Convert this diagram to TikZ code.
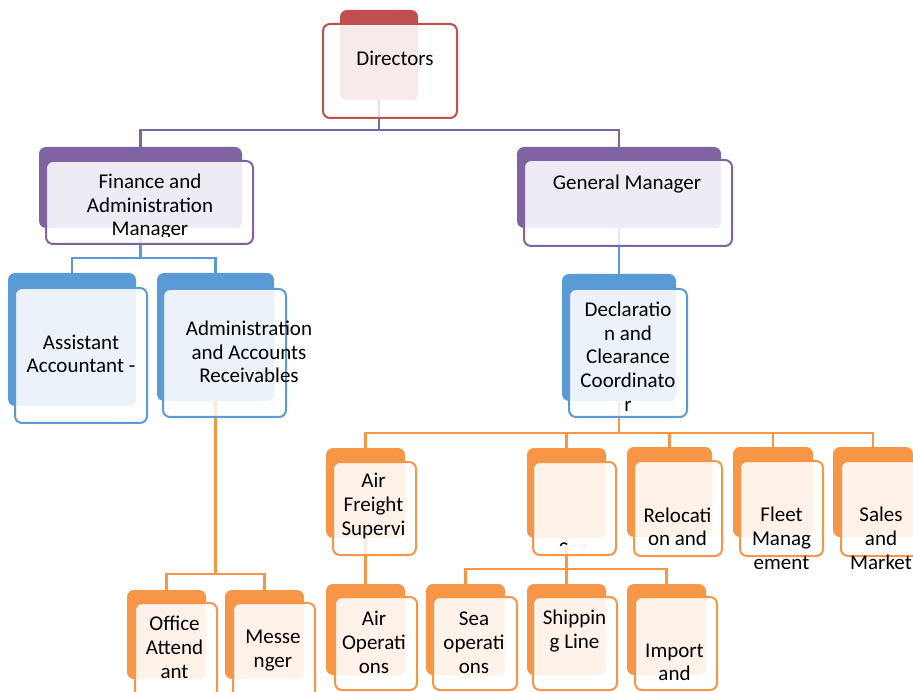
\documentclass[tikz,border=0pt]{standalone}
\usepackage{fontspec}
\setmainfont{Carlito}
\usetikzlibrary{fit}
\pgfdeclarelayer{bg}
\pgfsetlayers{bg,main}
\definecolor{cpurple}{HTML}{8064A2}
\definecolor{tpurple}{HTML}{EEEBF4}
\definecolor{cred}{HTML}{C0504D}
\definecolor{tred}{HTML}{F7EAEA}
\definecolor{cblue}{HTML}{5B9BD5}
\definecolor{tblue}{HTML}{EBF2FA}
\definecolor{corange}{HTML}{F79646}
\definecolor{torange}{HTML}{FEF2E9}
\tikzset{
  backbox/.style={inner sep=0pt, outer sep=0pt, rounded corners=7pt, draw=none},
  frontbox/.style={inner sep=0pt, outer sep=0pt, rounded corners=7pt, fill=white, fill opacity=0.8, draw=none},
  conn/.style={line width=2.3pt, draw=#1},
  lbl/.style={font=\fontsize{21}{23.6}\selectfont, align=center, inner sep=0pt, anchor=base, text=black},
}
\newcommand\orgunit[7]{%
  \node[backbox, fill=#2, fit={#4 #5}] (#1B) {};
  \node[frontbox, fit={#6 #7}] (#1F) {};
  \begin{scope}
    \clip[rounded corners=7pt] (#1B.north west) rectangle (#1B.south east);
    \fill[#3, rounded corners=7pt] (#1F.north west) rectangle (#1F.south east);
  \end{scope}
  \draw[#2, line width=2pt, rounded corners=7pt] (#1F.north west) rectangle (#1F.south east);
}
\begin{document}
\begin{tikzpicture}[x=1pt,y=-1pt]
\useasboundingbox (0,0) rectangle (913,692);
% units
\orgunit{dir}{cred}{tred}{(340,10)}{(418,100)}{(323,24)}{(457,118)}
\orgunit{fin}{cpurple}{tpurple}{(39,147)}{(242,228)}{(46,161)}{(253,244)}
\orgunit{gm}{cpurple}{tpurple}{(517,147)}{(721,228)}{(524,160)}{(732,246)}
\orgunit{asst}{cblue}{tblue}{(8,273)}{(136,406)}{(15,288)}{(147,423)}
\orgunit{admin}{cblue}{tblue}{(157,273)}{(274,401)}{(163,289)}{(286,417)}
\orgunit{decl}{cblue}{tblue}{(562,274)}{(676,401)}{(569,289)}{(687,417)}
\orgunit{air}{corange}{torange}{(326,448)}{(405,538)}{(333,462)}{(416,555)}
\orgunit{sea}{corange}{torange}{(527,448)}{(606,538)}{(533,462)}{(616,555)}
\orgunit{reloc}{corange}{torange}{(627,447)}{(712,537)}{(634,461)}{(722,556)}
\orgunit{fleet}{corange}{torange}{(733,447)}{(813,537)}{(740,461)}{(823,556)}
\orgunit{sales}{corange}{torange}{(833,447)}{(913,537)}{(841,461)}{(925,556)}
\orgunit{office}{corange}{torange}{(127,590)}{(206,679)}{(135,603)}{(217,705)}
\orgunit{mess}{corange}{torange}{(225,590)}{(304,679)}{(233,603)}{(315,705)}
\orgunit{airops}{corange}{torange}{(326,584)}{(405,675)}{(335,597)}{(417,690)}
\orgunit{seaops}{corange}{torange}{(426,584)}{(505,675)}{(433,597)}{(517,690)}
\orgunit{ship}{corange}{torange}{(527,584)}{(606,675)}{(533,597)}{(617,690)}
\orgunit{import}{corange}{torange}{(627,584)}{(706,675)}{(635,597)}{(717,690)}
% connectors beneath the boxes
\begin{pgfonlayer}{bg}
\draw[conn=cpurple] (dirB.south) -- ++(0,30) -| (finB.north);
\draw[conn=cpurple] (dirB.south) ++(0,30) -| (gmB.north);
\draw[conn=cblue] (finB.south) -- ++(0,30) -| (asstB.north);
\draw[conn=cblue] (finB.south) ++(0,30) -| (adminB.north);
\draw[conn=cblue] (gmB.south) -- (declB.north);
\draw[conn=corange] (adminB.south) -- ++(0,173) -| (officeB.north);
\draw[conn=corange] (adminB.south) ++(0,173) -| (messB.north);
\draw[conn=corange] (declB.south) -- ++(0,32) -| (airB.north);
\draw[conn=corange] (declB.south) ++(0,32) -| (seaB.north);
\draw[conn=corange] (declB.south) ++(0,32) -| (relocB.north);
\draw[conn=corange] (declB.south) ++(0,32) -| (fleetB.north);
\draw[conn=corange] (declB.south) ++(0,32) -| (salesB.north);
\draw[conn=corange] (airB.south) -- (airopsB.north);
\draw[conn=corange] (seaB.south) -- ++(0,31) -| (seaopsB.north);
\draw[conn=corange] (seaB.south) ++(0,31) -| (shipB.north);
\draw[conn=corange] (seaB.south) ++(0,31) -| (importB.north);
\end{pgfonlayer}
% texts (anchor = baseline of the last line)
\node[lbl] (dirT) at (395,66) {Directors};
\begin{scope}
  \clip (0,140) rectangle (300,237);
  \node[lbl] (finT) at (150,236) {Finance and\\Administration\\Manager};
\end{scope}
\node[lbl] (gmT) at (627,190) {General Manager};
\node[lbl] (asstT) at (81,373) {Assistant\\Accountant -};
\node[lbl] (adminT) at (249,383) {Administration\\and Accounts\\Receivables};
\node[lbl] (declT) at (628,411) {Declaratio\\n and\\Clearance\\Coordinato\\r};
\node[lbl] (airT) at (373.5,535) {Air\\Freight\\Supervi};
\begin{scope}
  \clip (520,440) rectangle (630,545);
  \node[lbl] (seaT) at (574,556) {Sea};
\end{scope}
\node[lbl] (relocT) at (677.5,545.6) {Relocati\\on and};
\node[lbl] (fleetT) at (781.5,569) {Fleet\\Manag\\ement};
\node[lbl] (salesT) at (881,569) {Sales\\and\\Market};
\node[lbl] (officeT) at (174.5,678) {Office\\Attend\\ant};
\node[lbl] (messT) at (273,667) {Messe\\nger};
\node[lbl] (airopsT) at (374,673) {Air\\Operati\\ons};
\node[lbl] (seaopsT) at (474,673) {Sea\\operati\\ons};
\node[lbl] (shipT) at (574.5,648) {Shippin\\g Line};
\node[lbl] (importT) at (674.5,680.6) {Import\\and};
\end{tikzpicture}
\end{document}
